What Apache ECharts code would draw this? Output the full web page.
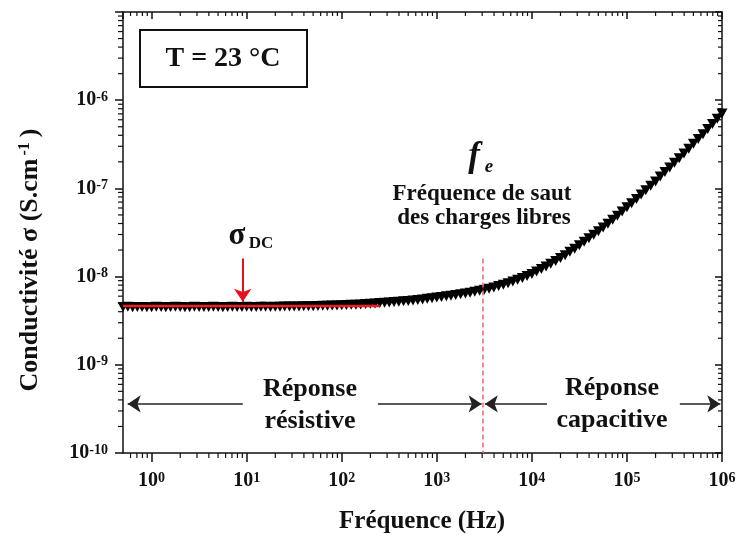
<!DOCTYPE html>
<html>
<head>
<meta charset="utf-8">
<script src="https://cdn.jsdelivr.net/npm/echarts@6/dist/echarts.min.js"></script>
<style>
html,body{margin:0;padding:0;background:#fff;}
#c{width:739px;height:537px;}
</style>
</head>
<body>
<div id="c"></div>
<script>
// Frequencies (Hz)
const freqs = [0.5, 0.562, 0.631, 0.708, 0.794, 0.891,
  1, 1.12, 1.26, 1.41, 1.58, 1.78, 2, 2.24, 2.51, 2.82, 3.16, 3.55, 3.98, 4.47, 5.01, 5.62, 6.31, 7.08, 7.94, 8.91,
  10, 11.2, 12.6, 14.1, 15.8, 17.8, 20, 22.4, 25.1, 28.2, 31.6, 35.5, 39.8, 44.7, 50.1, 56.2, 63.1, 70.8, 79.4, 89.1,
  100, 112, 126, 141, 158, 178, 200, 224, 251, 282, 316, 355, 398, 447, 501, 562, 631, 708, 794, 891,
  1000, 1120, 1260, 1410, 1580, 1780, 2000, 2240, 2510, 2820, 3160, 3550, 3980, 4470, 5010, 5620, 6310, 7080, 7940, 8910,
  1e4, 1.12e4, 1.26e4, 1.41e4, 1.58e4, 1.78e4, 2e4, 2.24e4, 2.51e4, 2.82e4, 3.16e4, 3.55e4, 3.98e4, 4.47e4, 5.01e4, 5.62e4, 6.31e4, 7.08e4, 7.94e4, 8.91e4,
  1e5, 1.12e5, 1.26e5, 1.41e5, 1.58e5, 1.78e5, 2e5, 2.24e5, 2.51e5, 2.82e5, 3.16e5, 3.55e5, 3.98e5, 4.47e5, 5.01e5, 5.62e5, 6.31e5, 7.08e5, 7.94e5, 8.91e5,
  1e6];
// Conductivity (S.cm-1)
const sigma = [4.51e-9, 4.54e-9, 4.49e-9, 4.53e-9, 4.52e-9, 4.48e-9,
  4.50e-9, 4.54e-9, 4.53e-9, 4.50e-9, 4.51e-9, 4.55e-9, 4.52e-9, 4.49e-9, 4.50e-9, 4.54e-9, 4.53e-9, 4.51e-9, 4.52e-9, 4.54e-9, 4.51e-9, 4.50e-9, 4.53e-9, 4.55e-9, 4.52e-9, 4.53e-9,
  4.54e-9, 4.52e-9, 4.53e-9, 4.55e-9, 4.55e-9, 4.53e-9, 4.54e-9, 4.56e-9, 4.57e-9, 4.57e-9, 4.58e-9, 4.59e-9, 4.60e-9, 4.61e-9, 4.62e-9, 4.63e-9, 4.66e-9, 4.68e-9, 4.69e-9, 4.71e-9,
  4.73e-9, 4.75e-9, 4.79e-9, 4.81e-9, 4.84e-9, 4.88e-9, 4.92e-9, 4.97e-9, 5.01e-9, 5.05e-9, 5.09e-9, 5.14e-9, 5.19e-9, 5.24e-9, 5.30e-9, 5.36e-9, 5.43e-9, 5.51e-9, 5.60e-9, 5.69e-9,
  5.78e-9, 5.87e-9, 5.97e-9, 6.07e-9, 6.18e-9, 6.30e-9, 6.43e-9, 6.58e-9, 6.73e-9, 6.90e-9, 7.08e-9, 7.29e-9, 7.53e-9, 7.80e-9, 8.09e-9, 8.43e-9, 8.79e-9, 9.20e-9, 9.66e-9, 1.016e-8,
  1.07e-8, 1.14e-8, 1.22e-8, 1.30e-8, 1.40e-8, 1.50e-8, 1.62e-8, 1.75e-8, 1.91e-8, 2.07e-8, 2.26e-8, 2.48e-8, 2.72e-8, 2.99e-8, 3.27e-8, 3.61e-8, 3.98e-8, 4.42e-8, 4.90e-8, 5.46e-8,
  6.10e-8, 6.79e-8, 7.59e-8, 8.51e-8, 9.55e-8, 1.07e-7, 1.20e-7, 1.36e-7, 1.53e-7, 1.73e-7, 1.95e-7, 2.20e-7, 2.48e-7, 2.82e-7, 3.20e-7, 3.63e-7, 4.12e-7, 4.70e-7, 5.37e-7, 6.17e-7,
  7.08e-7];
// Annotation values
const sigmaDC = 4.65e-9;
const sigmaDCEnd = 250;
const fe = 3050;
const feLineTop = 1.6e-8;
const arrowSigmaDCx = 9.1;
const arrowSigmaDC = [1.6e-8, 5.2e-9];
const regionArrowY = 3.6e-10;
const resistiveArrows = [[9.1, 0.56], [240, 2960]];
const capacitiveArrows = [[14400, 3200], [3.6e5, 9.6e5]];
const xMin = 0.5, xMax = 1e6, yMin = 1e-10, yMax = 1e-5;

const FONT = '"Liberation Serif", "Times New Roman", serif';
const INK = '#111';

// minor tick positions (2..9 x 10^k)
const xMinor = [], yMinor = [];
for (let e = -1; e <= 5; e++) for (let m = 2; m <= 9; m++) { const v = m * Math.pow(10, e); if (v > xMin && v < xMax) xMinor.push([v, 1e-9]); }
for (let e = -10; e <= -6; e++) for (let m = 2; m <= 9; m++) { const v = m * Math.pow(10, e); if (v > yMin && v < yMax) yMinor.push([1, v]); }

function expOf(v) {
  const e = Math.log10(v);
  if (Math.abs(e - Math.round(e)) > 1e-6) return null;
  return Math.round(e);
}
const rich = {
  b: {fontFamily: FONT, fontSize: 20, fontWeight: 'bold', color: INK, lineHeight: 20, padding: [7, 0, 0, 0], verticalAlign: 'bottom'},
  s: {fontFamily: FONT, fontSize: 14, fontWeight: 'bold', color: INK, lineHeight: 15, verticalAlign: 'top'}
};
function fmtX(v) { const e = expOf(v); if (e === null) return ''; return '{b|10}{s|' + e + '}'; }
function fmtY(v) { const e = expOf(v); if (e === null || e === -5) return ''; return '{b|10}{s|' + e + '}'; }

const axisLine = {show: true, onZero: false, lineStyle: {color: INK, width: 1.5}};

const chart = echarts.init(document.getElementById('c'), null, {renderer: 'canvas'});
chart.setOption({
  animation: false,
  backgroundColor: '#fff',
  grid: {left: 123, right: 17, top: 12, bottom: 84, containLabel: false},
  xAxis: [
    {type: 'log', logBase: 10, min: xMin, max: xMax, position: 'bottom',
      axisLine: axisLine, splitLine: {show: false},
      axisTick: {show: true, inside: false, length: 9, lineStyle: {color: INK, width: 1.5}},
      axisLabel: {formatter: fmtX, rich: rich, margin: 18, showMinLabel: false}},
    {type: 'log', logBase: 10, min: xMin, max: xMax, position: 'top',
      axisLine: axisLine, splitLine: {show: false},
      axisTick: {show: true, inside: true, length: 7, lineStyle: {color: INK, width: 1.5}},
      axisLabel: {show: false}}
  ],
  yAxis: [
    {type: 'log', logBase: 10, min: yMin, max: yMax, position: 'left',
      axisLine: axisLine, splitLine: {show: false},
      axisTick: {show: true, inside: false, length: 8, lineStyle: {color: INK, width: 1.5}},
      axisLabel: {formatter: fmtY, rich: rich, margin: 15}},
    {type: 'log', logBase: 10, min: yMin, max: yMax, position: 'right',
      axisLine: axisLine, splitLine: {show: false},
      axisTick: {show: true, inside: true, length: 7, lineStyle: {color: INK, width: 1.5}},
      axisLabel: {show: false}}
  ],
  series: [
    {
      type: 'scatter', name: 'sigma', xAxisIndex: 0, yAxisIndex: 0,
      data: freqs.map((f, i) => [f, sigma[i]]),
      symbol: 'triangle', symbolRotate: 180, symbolSize: [11, 10],
      itemStyle: {color: '#000', opacity: 1}, silent: true, z: 2
    },
    {
      type: 'line', name: 'sigmaDC', xAxisIndex: 0, yAxisIndex: 0,
      data: [[xMin, sigmaDC], [sigmaDCEnd, sigmaDC]],
      showSymbol: false, symbol: 'none', silent: true, z: 8, clip: false,
      lineStyle: {color: '#ee1c24', width: 2.5}
    },
    {
      type: 'line', name: 'annotations', xAxisIndex: 0, yAxisIndex: 0,
      data: [], silent: true, z: 9,
      markLine: {
        silent: true, animation: false, z: 9,
        label: {show: false},
        emphasis: {disabled: true},
        data: [
          [{coord: [fe, feLineTop], symbol: 'none', lineStyle: {color: '#f26a6a', width: 1.5, type: [5, 3]}}, {coord: [fe, yMin], symbol: 'none'}],
          [{coord: [arrowSigmaDCx, arrowSigmaDC[0]], symbol: 'none', lineStyle: {color: '#e8101a', width: 2, type: 'solid'}}, {coord: [arrowSigmaDCx, arrowSigmaDC[1]], symbol: 'arrow', symbolSize: 13, itemStyle: {color: '#e8101a'}}],
          ...resistiveArrows.concat(capacitiveArrows).map(a => [
            {coord: [a[0], regionArrowY], symbol: 'none', lineStyle: {color: '#222', width: 1.5, type: 'solid'}},
            {coord: [a[1], regionArrowY], symbol: 'arrow', symbolSize: 13, itemStyle: {color: '#111'}}
          ])
        ]
      }
    },
    {
      type: 'custom', name: 'xMinorTicks', xAxisIndex: 0, yAxisIndex: 0, silent: true, clip: false, z: 6,
      data: xMinor,
      renderItem: function (params, api) {
        const cs = params.coordSys;
        const x = api.coord([api.value(0), 1e-9])[0];
        const b = cs.y + cs.height, t = cs.y;
        const st = {stroke: INK, lineWidth: 1.2};
        return {type: 'group', children: [
          {type: 'line', shape: {x1: x, y1: b, x2: x, y2: b + 5}, style: st},
          {type: 'line', shape: {x1: x, y1: t, x2: x, y2: t + 4}, style: st}
        ]};
      }
    },
    {
      type: 'custom', name: 'yMinorTicks', xAxisIndex: 0, yAxisIndex: 0, silent: true, clip: false, z: 6,
      data: yMinor,
      renderItem: function (params, api) {
        const cs = params.coordSys;
        const y = api.coord([1, api.value(1)])[1];
        const l = cs.x, r = cs.x + cs.width;
        const st = {stroke: INK, lineWidth: 1.2};
        return {type: 'group', children: [
          {type: 'line', shape: {x1: l - 5, y1: y, x2: l, y2: y}, style: st},
          {type: 'line', shape: {x1: r - 4, y1: y, x2: r, y2: y}, style: st}
        ]};
      }
    }
  ],
  graphic: [
    {type: 'rect', shape: {x: 140, y: 30, width: 167, height: 57}, style: {fill: '#fff', stroke: INK, lineWidth: 2}, z: 10},
    {type: 'text', x: 223, y: 59, style: {text: 'T = 23 °C', font: 'bold 28px ' + FONT, fill: INK, align: 'center', verticalAlign: 'middle'}, z: 11},
    {type: 'text', x: 237, y: 236, style: {text: 'σ', font: 'bold 31px ' + FONT, fill: INK, align: 'center', verticalAlign: 'middle'}, z: 11},
    {type: 'text', x: 261, y: 244, style: {text: 'DC', font: 'bold 17px ' + FONT, fill: INK, align: 'center', verticalAlign: 'middle'}, z: 11},
    {type: 'text', x: 474, y: 157, style: {text: 'f', font: 'italic bold 35px ' + FONT, fill: INK, align: 'center', verticalAlign: 'middle'}, z: 11},
    {type: 'text', x: 489, y: 167, style: {text: 'e', font: 'italic bold 19px ' + FONT, fill: INK, align: 'center', verticalAlign: 'middle'}, z: 11},
    {type: 'text', x: 482, y: 194, style: {text: 'Fréquence de saut', font: 'bold 23px ' + FONT, fill: INK, align: 'center', verticalAlign: 'middle'}, z: 11},
    {type: 'text', x: 484, y: 218, style: {text: 'des charges libres', font: 'bold 23px ' + FONT, fill: INK, align: 'center', verticalAlign: 'middle'}, z: 11},
    {type: 'text', x: 310, y: 389, style: {text: 'Réponse', font: 'bold 26px ' + FONT, fill: INK, align: 'center', verticalAlign: 'middle'}, z: 11},
    {type: 'text', x: 310, y: 421, style: {text: 'résistive', font: 'bold 26px ' + FONT, fill: INK, align: 'center', verticalAlign: 'middle'}, z: 11},
    {type: 'text', x: 612, y: 388, style: {text: 'Réponse', font: 'bold 26px ' + FONT, fill: INK, align: 'center', verticalAlign: 'middle'}, z: 11},
    {type: 'text', x: 612, y: 420, style: {text: 'capacitive', font: 'bold 26px ' + FONT, fill: INK, align: 'center', verticalAlign: 'middle'}, z: 11},
    {type: 'text', x: 422, y: 522, style: {text: 'Fréquence (Hz)', font: 'bold 25px ' + FONT, fill: INK, align: 'center', verticalAlign: 'middle'}, z: 11},
    {type: 'text', x: 30, y: 260, rotation: Math.PI / 2,
      style: {text: '{n|Conductivité σ (S.cm}{s|-1}{n|)}', align: 'center', verticalAlign: 'middle',
        rich: {
          n: {fontFamily: FONT, fontSize: 26, fontWeight: 'bold', fill: INK, color: INK, lineHeight: 26, padding: [7, 0, 0, 0], verticalAlign: 'bottom'},
          s: {fontFamily: FONT, fontSize: 16, fontWeight: 'bold', fill: INK, color: INK, lineHeight: 16, padding: [0, 5, 0, 3], verticalAlign: 'top'}
        }}, z: 11}
  ]
});
</script>
</body>
</html>
